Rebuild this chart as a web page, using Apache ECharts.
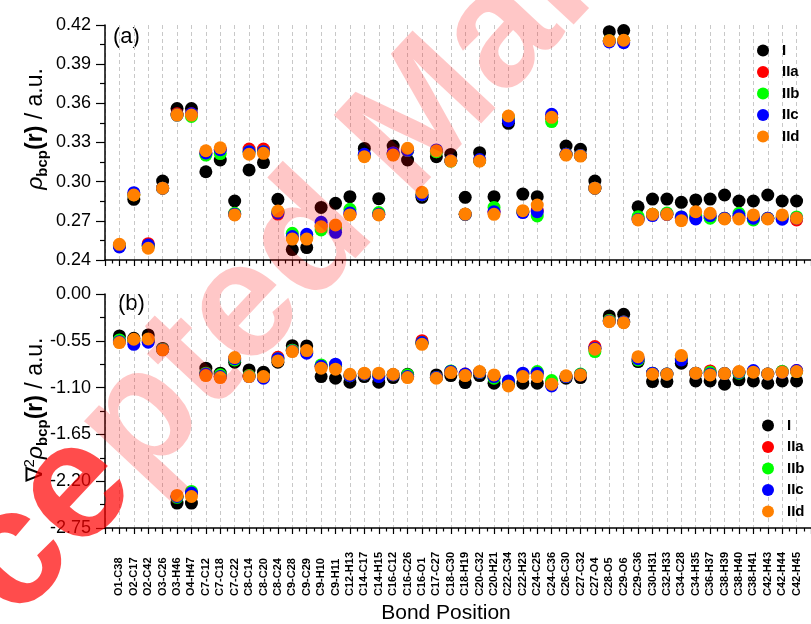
<!DOCTYPE html>
<html>
<head>
<meta charset="utf-8">
<script src="https://cdn.jsdelivr.net/npm/echarts@6/dist/echarts.min.js"></script>
<style>
html,body{margin:0;padding:0;background:#fff;}
#chart{width:811px;height:624px;}
</style>
</head>
<body>
<div id="chart"></div>
<script>
var bonds = ['O1-C38','O2-C17','O2-C42','O3-C26','O3-H46','O4-H47','C7-C12','C7-C18','C7-C22','C8-C14','C8-C20','C8-C24','C9-C28','C9-C29','C9-H10','C9-H11','C12-H13','C14-C17','C14-H15','C16-C12','C16-C26','C16-O1','C17-C27','C18-C30','C18-H19','C20-C32','C20-H21','C22-C34','C22-H23','C24-C25','C24-C36','C26-C30','C27-C32','C27-O4','C28-O5','C29-O6','C29-C36','C30-H31','C32-H33','C34-C28','C34-H35','C36-H37','C38-H39','C38-H40','C38-H41','C42-H43','C42-H44','C42-H45'];
var seriesNames = ['I','IIa','IIb','IIc','IId'];
var seriesColors = ['#000000','#ff0000','#00ff00','#0000ff','#ff8000'];

// panel (a): rho_bcp(r)
var rhoI   = [0.251,0.2865,0.251,0.3005,0.356,0.356,0.3076,0.3166,0.2852,0.309,0.3146,0.2865,0.248,0.2495,0.2803,0.2834,0.2885,0.3255,0.287,0.3273,0.3166,0.288,0.3191,0.3209,0.288,0.3222,0.2885,0.3447,0.2905,0.2885,0.349,0.3273,0.3248,0.3005,0.4149,0.4157,0.2808,0.2867,0.2867,0.2842,0.286,0.2867,0.2898,0.2852,0.2852,0.2898,0.2852,0.2852];
var rhoIIa = [0.251,0.290,0.2525,0.295,0.352,0.352,0.322,0.3245,0.2755,0.325,0.325,0.2752,0.257,0.257,0.266,0.265,0.275,0.320,0.275,0.322,0.324,0.290,0.323,0.316,0.275,0.316,0.277,0.349,0.277,0.278,0.349,0.321,0.320,0.295,0.408,0.408,0.272,0.275,0.275,0.272,0.273,0.273,0.272,0.273,0.272,0.272,0.273,0.2707];
var rhoIIb = [0.251,0.290,0.251,0.295,0.351,0.350,0.3204,0.3215,0.2758,0.323,0.323,0.277,0.2604,0.258,0.263,0.264,0.2788,0.320,0.2763,0.321,0.324,0.290,0.323,0.3158,0.275,0.316,0.2803,0.349,0.277,0.2737,0.346,0.321,0.320,0.295,0.408,0.408,0.2732,0.275,0.276,0.273,0.274,0.272,0.272,0.2758,0.2707,0.272,0.273,0.273];
var rhoIIc = [0.250,0.2916,0.2515,0.295,0.351,0.352,0.322,0.3245,0.275,0.323,0.323,0.276,0.258,0.2597,0.2689,0.2612,0.276,0.321,0.275,0.322,0.324,0.290,0.3243,0.316,0.275,0.317,0.277,0.3467,0.2763,0.277,0.3516,0.321,0.320,0.295,0.407,0.4065,0.271,0.274,0.275,0.273,0.2714,0.274,0.272,0.274,0.272,0.272,0.2712,0.272];
var rhoIId = [0.252,0.2898,0.249,0.295,0.351,0.351,0.3237,0.326,0.2745,0.321,0.3217,0.2775,0.256,0.256,0.2655,0.2668,0.2745,0.3191,0.2745,0.3204,0.3256,0.2918,0.3237,0.3158,0.2752,0.3158,0.275,0.3503,0.2778,0.2821,0.3493,0.3204,0.3196,0.295,0.408,0.4083,0.2707,0.275,0.275,0.2701,0.277,0.2758,0.2714,0.2714,0.2745,0.2714,0.2745,0.272];

// panel (b): laplacian of rho_bcp(r)
var lapI   = [-0.493,-0.52,-0.481,-0.64,-2.457,-2.457,-0.872,-0.931,-0.802,-0.892,-0.919,-0.802,-0.607,-0.61,-0.97,-0.99,-1.037,-0.97,-1.037,-0.982,-0.943,-0.58,-0.951,-0.959,-1.041,-0.959,-1.049,-1.06,-1.049,-1.049,-1.06,-0.99,-0.982,-0.64,-0.258,-0.238,-0.794,-1.029,-1.029,-0.814,-1.021,-1.021,-1.06,-1.009,-1.021,-1.049,-1.021,-1.021];
var lapIIa = [-0.55,-0.55,-0.55,-0.65,-2.38,-2.34,-0.94,-0.97,-0.76,-0.959,-0.98,-0.743,-0.66,-0.68,-0.85,-0.85,-0.96,-0.94,-0.96,-0.95,-0.97,-0.548,-0.98,-0.91,-0.94,-0.92,-0.97,-1.03,-0.94,-0.93,-1.06,-0.97,-0.95,-0.618,-0.31,-0.33,-0.77,-0.93,-0.94,-0.76,-0.93,-0.904,-0.935,-0.92,-0.91,-0.94,-0.91,-0.9];
var lapIIb = [-0.54,-0.55,-0.54,-0.65,-2.39,-2.32,-0.931,-0.95,-0.775,-0.96,-0.98,-0.76,-0.66,-0.68,-0.833,-0.85,-0.96,-0.94,-0.96,-0.95,-0.95,-0.57,-0.98,-0.904,-0.95,-0.92,-0.99,-1.03,-0.94,-0.912,-1.017,-0.97,-0.94,-0.677,-0.31,-0.33,-0.775,-0.93,-0.94,-0.76,-0.93,-0.92,-0.935,-0.93,-0.91,-0.94,-0.91,-0.91];
var lapIIc = [-0.56,-0.591,-0.567,-0.655,-2.38,-2.34,-0.94,-0.97,-0.76,-0.97,-0.99,-0.76,-0.67,-0.696,-0.85,-0.825,-0.96,-0.94,-0.97,-0.95,-0.97,-0.57,-0.98,-0.91,-0.94,-0.92,-0.97,-1.021,-0.931,-0.93,-1.08,-0.97,-0.95,-0.64,-0.32,-0.33,-0.76,-0.93,-0.94,-0.775,-0.93,-0.94,-0.935,-0.92,-0.9,-0.94,-0.92,-0.9];
var lapIId = [-0.571,-0.532,-0.528,-0.657,-2.367,-2.38,-0.959,-0.982,-0.747,-0.97,-0.97,-0.786,-0.677,-0.665,-0.872,-0.884,-0.943,-0.931,-0.931,-0.943,-0.982,-0.591,-0.99,-0.923,-0.959,-0.912,-0.951,-1.08,-0.97,-0.97,-1.06,-0.962,-0.951,-0.649,-0.325,-0.337,-0.736,-0.943,-0.943,-0.724,-0.931,-0.951,-0.935,-0.912,-0.919,-0.939,-0.919,-0.912];

var rhoTicks = [0.24, 0.42, 0.03];
var lapTicks = [-2.75, 0, 0.55];

var rhoSets = [rhoI, rhoIIa, rhoIIb, rhoIIc, rhoIId];
var lapSets = [lapI, lapIIa, lapIIb, lapIIc, lapIId];

function pts(arr){ return arr.map(function(v,i){ return [i+1, v]; }); }

var chart = echarts.init(document.getElementById('chart'));
var FONT = 'Arial, "Liberation Sans", sans-serif';

function xAxisCfg(gi, showLabels){
  return {
    type:'value', gridIndex:gi, min:0, max:49, interval:1,
    axisLine:{show:true, onZero:false, lineStyle:{color:'#000', width:1.5}},
    axisTick:{show:true, inside:false, length:6, lineStyle:{color:'#000', width:1.2}},
    minorTick:{show:true, splitNumber:2, length:3.5, lineStyle:{color:'#000', width:1.2}},
    splitLine:{show:true, lineStyle:{color:'#c8c8c8', type:[4,3], width:1}},
    axisLabel:{show:showLabels, rotate:90, align:'left', margin:68, fontSize:11, fontWeight:'bold', fontFamily:FONT, color:'#000',
      formatter:function(v){ return bonds[v-1] || ''; }}
  };
}
function yAxisCfg(gi, t){
  return {
    type:'value', gridIndex:gi, min:t[0], max:t[1], interval:t[2],
    axisLine:{show:true, onZero:false, lineStyle:{color:'#000', width:1.5}},
    axisTick:{show:true, inside:false, length:9, lineStyle:{color:'#000', width:1.2}},
    minorTick:{show:true, splitNumber:2, length:5, lineStyle:{color:'#000', width:1.2}},
    splitLine:{show:false},
    axisLabel:{fontSize:18, fontFamily:FONT, color:'#000', margin:14,
      formatter:function(v){ return Math.abs(v)<1e-9 ? '0.00' : v.toFixed(2); }}
  };
}

var series = [];
[rhoSets, lapSets].forEach(function(sets, gi){
  sets.forEach(function(arr, k){
    series.push({
      name: seriesNames[k], type:'scatter', xAxisIndex:gi, yAxisIndex:gi,
      symbol:'circle', symbolSize:13, data: pts(arr),
      itemStyle:{color:seriesColors[k], opacity:1},
      emphasis:{disabled:true}
    });
  });
});

var legendBase = {
  data: seriesNames, orient:'vertical', icon:'circle', itemWidth:28, itemHeight:12, itemGap:6.5,
  textStyle:{fontSize:15, fontWeight:'bold', fontFamily:FONT, color:'#000', lineHeight:14},
  selectedMode:false
};

var richLabel = {
  r:{fontSize:23, fontStyle:'italic', fontFamily:FONT, lineHeight:28},
  s:{fontSize:15, fontWeight:'bold', fontFamily:FONT, lineHeight:15, verticalAlign:'bottom'},
  b:{fontSize:23, fontWeight:'bold', fontFamily:FONT, lineHeight:28},
  n:{fontSize:23, fontFamily:FONT, lineHeight:28},
  p:{fontSize:15, fontFamily:FONT, lineHeight:15, verticalAlign:'top'}
};

// watermark text pieces
var WM_FONT = 'bold 165px Arial, "Liberation Sans", sans-serif';
var mctx = document.createElement('canvas').getContext('2d');
mctx.font = WM_FONT;
var wmW1 = mctx.measureText('Acce').width;

var option = {
  backgroundColor:'#fff',
  animation:false,
  grid:[
    {left:105, top:25, width:712, height:235},
    {left:105, top:294, width:712, height:234}
  ],
  xAxis:[ xAxisCfg(0,false), xAxisCfg(1,true) ],
  yAxis:[ yAxisCfg(0, rhoTicks), yAxisCfg(1, lapTicks) ],
  legend:[
    Object.assign({}, legendBase, {left:752, top:38}),
    Object.assign({}, legendBase, {left:757, top:413})
  ],
  series: series,
  graphic:[
    {type:'text', x:113, y:37, style:{text:'(a)', fontSize:22, fontFamily:FONT, fill:'#000', verticalAlign:'middle'}},
    {type:'text', x:118, y:304, style:{text:'(b)', fontSize:22, fontFamily:FONT, fill:'#000', verticalAlign:'middle'}},
    {type:'text', x:36, y:129, rotation:Math.PI/2,
      style:{text:'{r|ρ}{s|bcp}{b|(r)}{n| / a.u.}', rich:richLabel, align:'center', verticalAlign:'middle', fill:'#000'}},
    {type:'text', x:36, y:410, rotation:Math.PI/2,
      style:{text:'{n|∇}{p|2}{r|ρ}{s|bcp}{b|(r)}{n| / a.u.}', rich:richLabel, align:'center', verticalAlign:'middle', fill:'#000'}},
    {type:'text', x:446, y:613, style:{text:'Bond Position', fontSize:21, fontFamily:FONT, fill:'#000', align:'center', verticalAlign:'middle'}},
    {type:'group', x:-162, y:746, rotation:0.82, z:100, silent:true, children:[
      {type:'text', x:0, y:0, z:100, silent:true,
        style:{text:'Acce', font:WM_FONT, fill:'rgba(255,0,0,0.7)', align:'left', verticalAlign:'middle'}},
      {type:'text', x:wmW1, y:0, z:100, silent:true,
        style:{text:'pted Manuscript', font:WM_FONT, fill:'rgba(255,0,0,0.22)', align:'left', verticalAlign:'middle'}}
    ]}
  ]
};
chart.setOption(option);
</script>
</body>
</html>
